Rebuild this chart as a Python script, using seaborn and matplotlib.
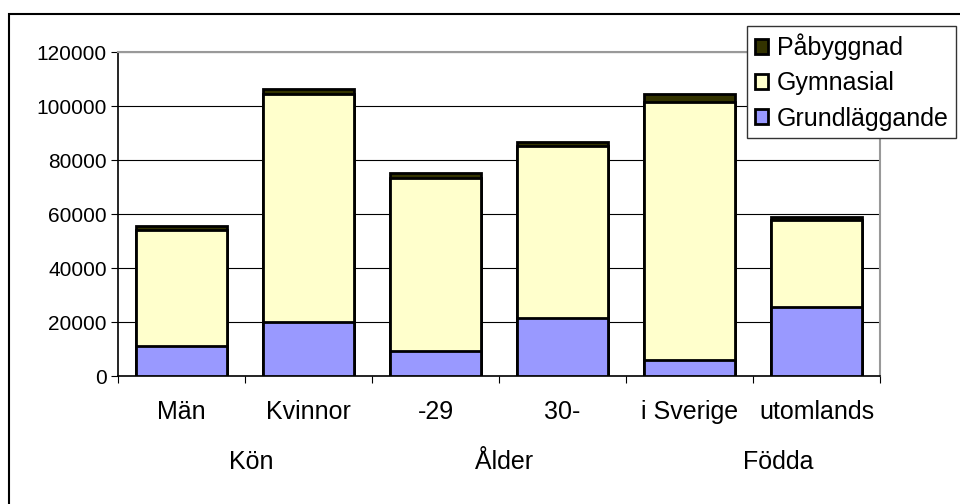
import pandas as pd
import seaborn as sns
import matplotlib.pyplot as plt
from matplotlib.patches import Rectangle, Patch

categories = ['Män', 'Kvinnor', '-29', '30-', 'i Sverige', 'utomlands']
groups = ['Kön', 'Ålder', 'Födda']
grundlaggande = [11000, 20000, 9400, 21600, 5900, 25700]
gymnasial = [43000, 84300, 63800, 63600, 95700, 32100]
pabyggnad = [1700, 1900, 2100, 1600, 2800, 1100]
series_names = ['Påbyggnad', 'Gymnasial', 'Grundläggande']
colors = {'Grundläggande': '#9999FF', 'Gymnasial': '#FFFFCC', 'Påbyggnad': '#333300'}

df = pd.DataFrame({'cat': categories, 'grund': grundlaggande,
                   'gym': gymnasial, 'pab': pabyggnad})
df['c1'] = df['grund']
df['c2'] = df['c1'] + df['gym']
df['c3'] = df['c2'] + df['pab']

sns.set_style('white')
plt.rcParams['font.family'] = ['Liberation Sans', 'DejaVu Sans']
plt.rcParams['text.color'] = 'black'
plt.rcParams['xtick.color'] = 'black'
plt.rcParams['ytick.color'] = 'black'

fig = plt.figure(figsize=(9.6, 5.04), dpi=100)
ax = fig.add_axes([118 / 960, 1 - 376 / 504, 762 / 960, 324 / 504])

# stacked bars: draw cumulative totals from the top down
for col, name in [('c3', 'Påbyggnad'), ('c2', 'Gymnasial'), ('c1', 'Grundläggande')]:
    sns.barplot(data=df, x='cat', y=col, color=colors[name], saturation=1,
                edgecolor='black', linewidth=2.0, width=0.72, ax=ax, zorder=3)

ax.set_ylim(0, 120000)
ax.set_xlim(-0.5, 5.5)
ax.set_yticks(range(0, 120001, 20000))
ax.yaxis.grid(True, color='black', linewidth=0.8, zorder=0)
ax.set_axisbelow(True)
ax.set_xlabel('')
ax.set_ylabel('')

for side in ['left', 'bottom']:
    ax.spines[side].set_color('black')
    ax.spines[side].set_linewidth(1.2)
for side in ['top', 'right']:
    ax.spines[side].set_color('#999999')
    ax.spines[side].set_linewidth(1.5)

ax.tick_params(axis='y', labelsize=15, length=5, width=0.8, direction='out',
               left=True, pad=3)
ax.set_xticks([i + 0.5 for i in range(-1, 6)], minor=False)
ax.set_xticklabels([])
ax.tick_params(axis='x', length=5, width=0.8, direction='out', bottom=True)

for i, lab in enumerate(categories):
    ax.text(i, -13300, lab, ha='center', va='center', fontsize=18)
group_pos = [0.55, 2.54, 4.7]
for x, lab in zip(group_pos, groups):
    ax.text(x, -32000, lab, ha='center', va='center', fontsize=18)

handles = [Patch(facecolor=colors[n], edgecolor='black', linewidth=2.0) for n in series_names]
leg = fig.legend(handles, series_names, loc='upper left',
                 bbox_to_anchor=(747 / 960, 1 - 26 / 504), fontsize=18,
                 frameon=True, fancybox=False, framealpha=1, borderpad=0.3,
                 handlelength=0.55, handleheight=0.55, handletextpad=0.35,
                 labelspacing=0.45, borderaxespad=0)
leg.get_frame().set_edgecolor('#333333')
leg.get_frame().set_linewidth(1.0)

# outer chart frame (cropped at right and bottom)
fig.patches.append(Rectangle((9 / 960, -0.2), 1.2, 1.2 - 14 / 504,
                             transform=fig.transFigure, fill=False,
                             edgecolor='black', linewidth=1.5))

fig.savefig('out.png', dpi=100)
